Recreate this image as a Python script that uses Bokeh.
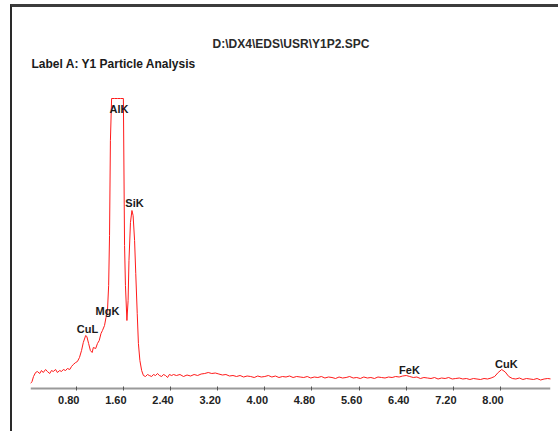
from bokeh.plotting import figure
from bokeh.models import Range1d, FixedTicker, Label, LabelSet, ColumnDataSource
from bokeh.core.properties import value
from bokeh.embed import file_html
from bokeh.resources import INLINE

# ---- spectrum data (energy in keV, counts) ----
kev_low = [0.024, 0.05, 0.075, 0.11, 0.14, 0.18, 0.21, 0.24, 0.28, 0.31,
           0.35, 0.38, 0.41, 0.45, 0.48, 0.52, 0.55, 0.58, 0.62, 0.65,
           0.69, 0.72, 0.75, 0.79, 0.82, 0.855, 0.89, 0.92, 0.96, 0.98,
           1.01, 1.04, 1.07, 1.09, 1.13, 1.16, 1.19, 1.22, 1.245, 1.28,
           1.305, 1.33, 1.35, 1.365, 1.38, 1.40, 1.45, 1.50, 1.55, 1.60,
           1.62, 1.635, 1.66, 1.68, 1.695, 1.72, 1.745, 1.765, 1.79, 1.81,
           1.835, 1.855, 1.88, 1.91, 1.94, 1.975, 2.01, 2.04, 2.08, 2.11,
           2.145, 2.18, 2.21, 2.25, 2.28, 2.315, 2.35, 2.38, 2.42, 2.45]
counts_low = [50, 70, 120, 160, 170, 150, 180, 160, 190, 170,
              150, 180, 170, 190, 160, 180, 170, 190, 180, 200,
              190, 220, 240, 260, 270, 310, 380, 460, 530, 520,
              450, 380, 360, 410, 400, 450, 480, 550, 580, 630,
              710, 780, 1030, 1530, 2480, 2900, 2900, 2900, 2900, 2900,
              1430, 1030, 680, 880, 1280, 1660, 1780, 1730, 1480, 1150,
              750, 450, 280, 180, 130, 120, 140, 130, 120, 140,
              130, 150, 130, 120, 140, 130, 110, 140, 130, 140]
# higher-energy channels: calibration start/step, hand-read counts
hi_start_kev = 2.50
hi_step_kev = 0.06
counts_hi = [130, 140, 120, 135, 125, 140, 130, 145, 150, 160,
             150, 155, 145, 135, 140, 125, 130, 120, 130, 115,
             125, 120, 110, 125, 115, 120, 130, 115, 125, 110,
             120, 115, 125, 110, 120, 115, 110, 120, 105, 115,
             110, 120, 105, 115, 110, 100, 115, 105, 110, 120,
             105, 110, 100, 115, 105, 110, 100, 115, 110, 105,
             115, 110, 120, 115, 125, 130, 120, 110, 115, 100,
             110, 105, 100, 110, 95, 105, 100, 110, 95, 100,
             105, 95, 100, 90, 100, 95, 90, 100, 95, 105,
             120, 160, 190, 165, 120, 100, 95, 105, 90, 100,
             95, 90, 100, 85, 95, 100, 95]

kev = kev_low + [round(hi_start_kev + hi_step_kev * i, 2) for i in range(len(counts_hi))]
counts = counts_low + counts_hi

# ---- peak annotations ----
peak_names = ["CuL", "MgK", "AlK", "SiK", "FeK", "CuK"]
peak_label_kev = [0.99, 1.33, 1.525, 1.789, 6.455, 8.10]
peak_label_counts = [600, 780, 2800, 1860, 190, 250]

# ---- axis ticks ----
tick_values = [0.8, 1.6, 2.4, 3.2, 4.0, 4.8, 5.6, 6.4, 7.2, 8.0]
tick_labels = ["0.80", "1.60", "2.40", "3.20", "4.00", "4.80", "5.60", "6.40", "7.20", "8.00"]

file_title = "D:\\DX4\\EDS\\USR\\Y1P2.SPC"
label_title = "Label A: Y1 Particle Analysis"

FONT = "Liberation Sans"
TICK_LABEL_Y = -110  # just below the energy axis

p = figure(width=548, height=427, output_backend="svg", toolbar_location=None,
           x_range=Range1d(0.0238, 8.848), y_range=Range1d(-300, 3760),
           min_border_left=18, min_border_right=10, min_border_top=5, min_border_bottom=16)
p.styles = {"margin-left": "10px", "margin-top": "4px",
            "border-left": "2px solid #2a2a2a", "border-top": "3px solid #3c3c3c"}
p.background_fill_color = "white"
p.border_fill_color = "white"
p.outline_line_color = None
p.grid.visible = False
p.yaxis.visible = False

ax = p.xaxis[0]
ax.fixed_location = 0
ax.ticker = FixedTicker(ticks=tick_values, minor_ticks=[])
ax.axis_line_color = "#9a9a9a"
ax.axis_line_width = 2
ax.major_tick_line_color = "#555555"
ax.major_tick_in = 2
ax.major_tick_out = 2
ax.minor_tick_line_color = None
ax.major_label_standoff = 0
ax.major_label_text_font_size = "1px"
ax.major_label_overrides = {t: "" for t in tick_values}

p.line(kev, counts, line_color="#ff1a1a", line_width=1)

peak_src = ColumnDataSource(dict(x=peak_label_kev, y=peak_label_counts, t=peak_names))
p.add_layout(LabelSet(x="x", y="y", text="t", source=peak_src,
                      text_align="center", text_baseline="middle",
                      text_font=value(FONT), text_font_style="bold",
                      text_font_size="11px", text_color="#1a1a1a"))

tick_src = ColumnDataSource(dict(x=tick_values, y=[TICK_LABEL_Y] * len(tick_values), t=tick_labels))
p.add_layout(LabelSet(x="x", y="y", text="t", source=tick_src,
                      x_offset=-7.5,
                      text_align="center", text_baseline="middle",
                      text_font=value(FONT), text_font_style="bold",
                      text_font_size="11px", text_color="#222222"))

p.add_layout(Label(x=4.444, y=3445, text=file_title, text_align="center",
                   text_baseline="middle", text_font=FONT,
                   text_font_style="bold", text_font_size="12px", text_color="#2a2a2a"))
p.add_layout(Label(x=0.041, y=3250, text=label_title, text_align="left",
                   text_baseline="middle", text_font=FONT,
                   text_font_style="bold", text_font_size="12px", text_color="#1a1a1a"))

open("out.html", "w").write(file_html(p, INLINE))
